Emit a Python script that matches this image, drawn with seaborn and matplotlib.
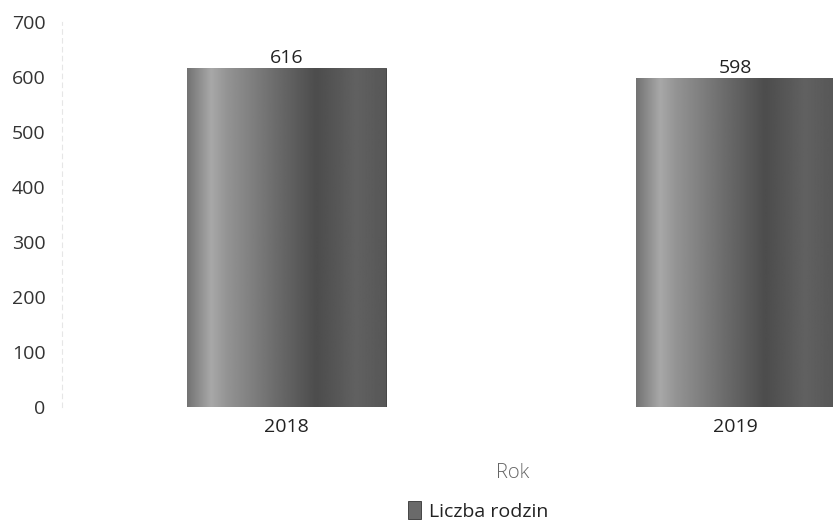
import numpy as np
import matplotlib
matplotlib.use("Agg")
import matplotlib.pyplot as plt
import seaborn as sns

# dane
years = ["2018", "2019"]
families = [616, 598]
series_name = "Liczba rodzin"
x_title = "Rok"

sns.set_style("white")
plt.rcParams['font.family'] = ['Open Sans', 'DejaVu Sans']

fig = plt.figure(figsize=(8.33, 5.26), dpi=100)
# oś wychodzi poza prawą krawędź (wykres przycięty jak w oryginale)
ax = fig.add_axes([62 / 833, 119 / 526, 898 / 833, 385 / 526])

sns.barplot(x=years, y=families, color="#6a6a6a", width=0.443,
            saturation=1, ax=ax, label=series_name)

# szary gradient na słupkach (jak na skanie)
stops = [0.0, 0.12, 0.2, 0.45, 0.65, 0.85, 1.0]
grays = [0.45, 0.66, 0.58, 0.42, 0.30, 0.38, 0.34]
xs = np.linspace(0, 1, 200)
grad = np.interp(xs, stops, grays)[None, :]
for p in ax.patches:
    x0, y0 = p.get_x(), p.get_y()
    w, h = p.get_width(), p.get_height()
    ax.imshow(grad, extent=(x0, x0 + w, y0, y0 + h), aspect='auto',
              cmap='gray', vmin=0, vmax=1, zorder=p.get_zorder() + 0.1)
    p.set_edgecolor("#333333")
    p.set_linewidth(0.6)

for c in ax.containers:
    ax.bar_label(c, fmt="%d", padding=1, fontsize=14, color="#222222")

ax.set_xlim(-0.5, 1.5)
ax.set_ylim(0, 700)
ax.set_yticks(range(0, 701, 100))
ax.tick_params(axis='y', length=0, pad=12, labelsize=14, labelcolor="#333333")
ax.tick_params(axis='x', length=0, pad=8, labelsize=14, labelcolor="#222222")
ax.set_xlabel(x_title, fontsize=14.5, color="#666666", fontweight='light')
ax.xaxis.set_label_coords((513 - 62) / 898, -0.145)

for s in ["top", "right", "bottom"]:
    ax.spines[s].set_visible(False)
ax.spines["left"].set_color("#e6e6e6")
ax.spines["left"].set_linestyle((0, (4, 4)))
ax.spines["left"].set_linewidth(0.8)

handles, labels = ax.get_legend_handles_labels()
if ax.get_legend():
    ax.get_legend().remove()
fig.legend(handles, labels, loc='center', bbox_to_anchor=(478 / 833, 1 - 511 / 526),
           frameon=False, fontsize=14, handlelength=0.7, handleheight=1.0,
           handletextpad=0.4, labelcolor="#222222")

fig.savefig("out.png", dpi=100)
